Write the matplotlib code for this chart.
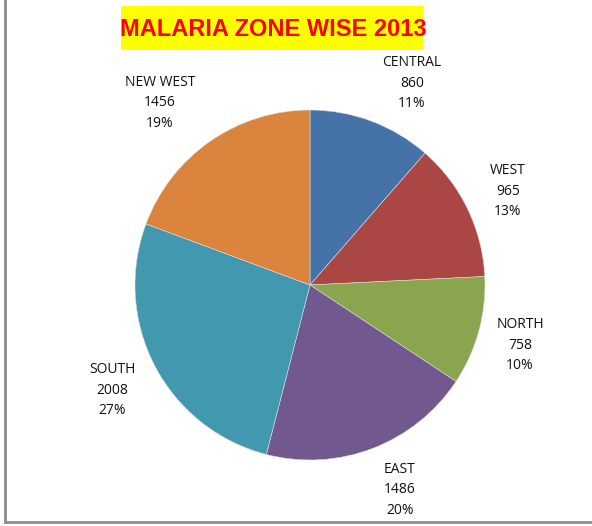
import matplotlib
matplotlib.use('Agg')
import matplotlib.pyplot as plt
from matplotlib.lines import Line2D
from matplotlib.patches import Rectangle

zones = ['CENTRAL', 'WEST', 'NORTH', 'EAST', 'SOUTH', 'NEW WEST']
cases = [860, 965, 758, 1486, 2008, 1456]
colors = ['#4572A7', '#AA4643', '#89A54E', '#71588F', '#4198AF', '#DB843D']

total = sum(cases)
labels = [f'{z}\n{v}\n{round(v / total * 100):.0f}%' for z, v in zip(zones, cases)]

# label centres, in units of the pie radius (Excel style placement)
label_pos = [(0.583, 1.154), (1.131, 0.537), (1.20, -0.343),
             (0.514, -1.171), (-1.131, -0.60), (-0.857, 1.04)]

fig = plt.figure(figsize=(5.92, 5.26), dpi=100)

# pie centre approx (310, 285) px, radius 175 px
ax = fig.add_axes([135 / 592, 66 / 526, 350 / 592, 350 / 526])
wedges, texts = ax.pie(cases, labels=labels, colors=colors, startangle=90,
                       counterclock=False, labeldistance=1.28,
                       wedgeprops=dict(linewidth=0.4, edgecolor='#dddddd'),
                       textprops=dict(fontsize=10, family='Open Sans',
                                      color='#111111', linespacing=1.52))
for t, pos in zip(texts, label_pos):
    t.set_position(pos)
    t.set_ha('center')
    t.set_va('center')
ax.set_xlim(-1, 1)
ax.set_ylim(-1, 1)
ax.set_aspect('equal')

# title in yellow box
fig.add_artist(Rectangle((121 / 592, 1 - 50 / 526), 302 / 592, 44 / 526,
                         transform=fig.transFigure, facecolor='#FFFF00', edgecolor='none'))
fig.text(273 / 592, 1 - 29 / 526, 'MALARIA ZONE WISE 2013', ha='center', va='center',
         fontsize=17, fontweight='bold', color='#FF0000', family='Liberation Sans')

# gray frame on left and bottom
fig.add_artist(Line2D([5 / 592, 5 / 592], [1 - 522 / 526, 1.0], transform=fig.transFigure,
                      color='#8c8c8c', linewidth=2))
fig.add_artist(Line2D([5 / 592, 1.0], [1 - 522 / 526, 1 - 522 / 526], transform=fig.transFigure,
                      color='#8c8c8c', linewidth=2))

fig.savefig('out.png', dpi=100)
